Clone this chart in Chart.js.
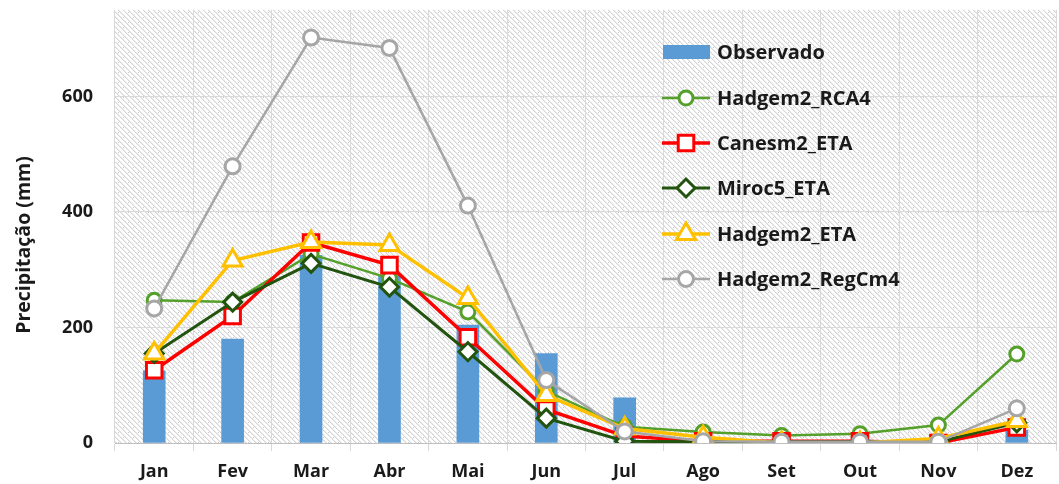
<!DOCTYPE html>
<html>
<head>
<meta charset="utf-8">
<script src="https://cdn.jsdelivr.net/npm/chart.js@4.4.1/dist/chart.umd.min.js"></script>
<style>
  html, body { margin: 0; padding: 0; background: #fff; overflow: hidden; }
  #wrap { width: 1070px; height: 484px; overflow: hidden; }
  #chart { display: block; margin-top: -23px; }
</style>
</head>
<body>
<div id="wrap"><canvas id="chart" width="1070" height="507"></canvas></div>
<script>
// ── Data ────────────────────────────────────────────
const months = ['Jan', 'Fev', 'Mar', 'Abr', 'Mai', 'Jun', 'Jul', 'Ago', 'Set', 'Out', 'Nov', 'Dez'];
const observado     = [125, 180, 325, 290, 204, 155, 78, 3, 5, 5, 5, 22];
const hadgemRCA4    = [247, 244, 327, 285, 227, 90, 28, 19, 13, 16, 31, 154];
const canesmETA     = [126, 220, 347, 308, 183, 58, 12, 3, 3, 3, 0, 27];
const mirocETA      = [155, 244, 311, 270, 158, 43, 3, 2, 2, 2, 2, 35];
const hadgemETA     = [155, 316, 348, 343, 251, 83, 25, 10, 0, 0, 8, 38];
const hadgemRegCm4  = [233, 479, 702, 684, 411, 109, 20, 3, 2, 2, 2, 60];
const yTicks = [0, 200, 400, 600];

const FONT = "'Open Sans', sans-serif";
const TEXT = '#1a1a1a';
const SHIFT = 23; // canvas is pulled up by this much

// ── Hatched plot background ─────────────────────────
function makeHatch() {
  const c = document.createElement('canvas');
  c.width = 10; c.height = 10;
  const g = c.getContext('2d');
  g.fillStyle = '#ffffff';
  g.fillRect(0, 0, 10, 10);
  for (let i = 0; i < 10; i++) {
    g.fillStyle = '#d6d6d6';
    g.fillRect(i, i, 1, 1);
    g.fillRect((i + 5) % 10, i, 1, 1);
    g.fillStyle = '#ebebeb';
    g.fillRect((i + 1) % 10, i, 1, 1);
    g.fillRect((i + 6) % 10, i, 1, 1);
  }
  g.fillStyle = '#c4c4c4';
  g.fillRect(3, 0, 1, 1);
  g.fillRect(8, 5, 1, 1);
  return c;
}

const hatchPlugin = {
  id: 'hatch',
  beforeDraw(chart) {
    const { ctx, chartArea: a } = chart;
    ctx.save();
    ctx.fillStyle = ctx.createPattern(makeHatch(), 'repeat');
    ctx.fillRect(a.left, a.top, a.right - a.left, a.bottom - a.top);
    ctx.restore();
  },
};

// ── Legend inside the plot + y title ────────────────
const legendPlugin = {
  id: 'innerLegend',
  afterDraw(chart) {
    const ctx = chart.ctx;
    const x0 = 662, x1 = 710, tx = 717;
    const rows = [52, 98, 143, 188, 234, 279];
    ctx.save();
    ctx.translate(0, SHIFT);
    chart.data.datasets.forEach((ds, i) => {
      const y = rows[i];
      if (ds.type === 'line') {
        ctx.strokeStyle = ds.borderColor;
        ctx.lineWidth = ds.borderWidth;
        ctx.beginPath();
        ctx.moveTo(x0, y);
        ctx.lineTo(x1, y);
        ctx.stroke();
        ctx.fillStyle = '#fff';
        ctx.lineWidth = ds.pointBorderWidth;
        Chart.helpers.drawPoint(ctx, {
          pointStyle: ds.pointStyle,
          radius: ds.pointRadius,
          rotation: 0,
          borderWidth: ds.pointBorderWidth,
        }, (x0 + x1) / 2, y);
      } else {
        ctx.fillStyle = ds.backgroundColor;
        ctx.fillRect(x0 + 1, y - 7, x1 - x0 - 1, 14);
      }
      ctx.fillStyle = TEXT;
      ctx.font = `bold 20px ${FONT}`;
      ctx.textBaseline = 'middle';
      ctx.textAlign = 'left';
      ctx.fillText(ds.label, tx, y + 1);
    });

    ctx.translate(24, 245);
    ctx.rotate(-Math.PI / 2);
    ctx.font = `bold 19.5px ${FONT}`;
    ctx.textAlign = 'center';
    ctx.textBaseline = 'middle';
    ctx.fillText('Precipitação (mm)', 0, 0);
    ctx.restore();
  },
};

function lineSet(label, data, color, width, style, radius, order) {
  return {
    type: 'line',
    label,
    data,
    borderColor: color,
    borderWidth: width,
    pointStyle: style,
    pointRadius: radius,
    pointHoverRadius: radius,
    pointBackgroundColor: '#fff',
    pointBorderColor: color,
    pointBorderWidth: 3,
    tension: 0,
    order,
  };
}

new Chart(document.getElementById('chart'), {
  type: 'bar',
  data: {
    labels: months,
    datasets: [
      {
        type: 'bar',
        label: 'Observado',
        data: observado,
        backgroundColor: '#5b9bd5',
        barThickness: 22,
        order: 10,
      },
      lineSet('Hadgem2_RCA4', hadgemRCA4, '#54a02a', 2.5, 'circle', 7, 5),
      lineSet('Canesm2_ETA', canesmETA, '#ff0000', 3.5, 'rect', 11, 4),
      lineSet('Miroc5_ETA', mirocETA, '#22540f', 3, 'rectRot', 9, 3),
      lineSet('Hadgem2_ETA', hadgemETA, '#ffc000', 3.5, 'triangle', 11, 2),
      lineSet('Hadgem2_RegCm4', hadgemRegCm4, '#a6a6a6', 2.5, 'circle', 7.5, 1),
    ],
  },
  options: {
    responsive: false,
    animation: false,
    layout: { padding: { top: 10, right: 3, bottom: 0, left: 0 } },
    plugins: {
      legend: { display: false },
      tooltip: { enabled: false },
    },
    scales: {
      x: {
        offset: true,
        grid: { offset: true, color: '#d9d9d9', lineWidth: 1, drawTicks: true, tickLength: 8 },
        border: { color: '#bfbfbf', width: 1 },
        ticks: { color: TEXT, font: { family: FONT, size: 18, weight: 'bold' }, padding: 10, maxRotation: 0 },
        afterFit: (s) => { s.height = 41; },
      },
      y: {
        min: 0,
        max: 750,
        afterBuildTicks: (s) => { s.ticks = yTicks.map((v) => ({ value: v })); },
        grid: { color: '#d9d9d9', lineWidth: 1, drawTicks: false },
        border: { display: false },
        ticks: { color: TEXT, font: { family: FONT, size: 18, weight: 'bold' }, padding: 22 },
        afterFit: (s) => { s.width = 115; },
      },
    },
  },
  plugins: [hatchPlugin, legendPlugin],
});
</script>
</body>
</html>
